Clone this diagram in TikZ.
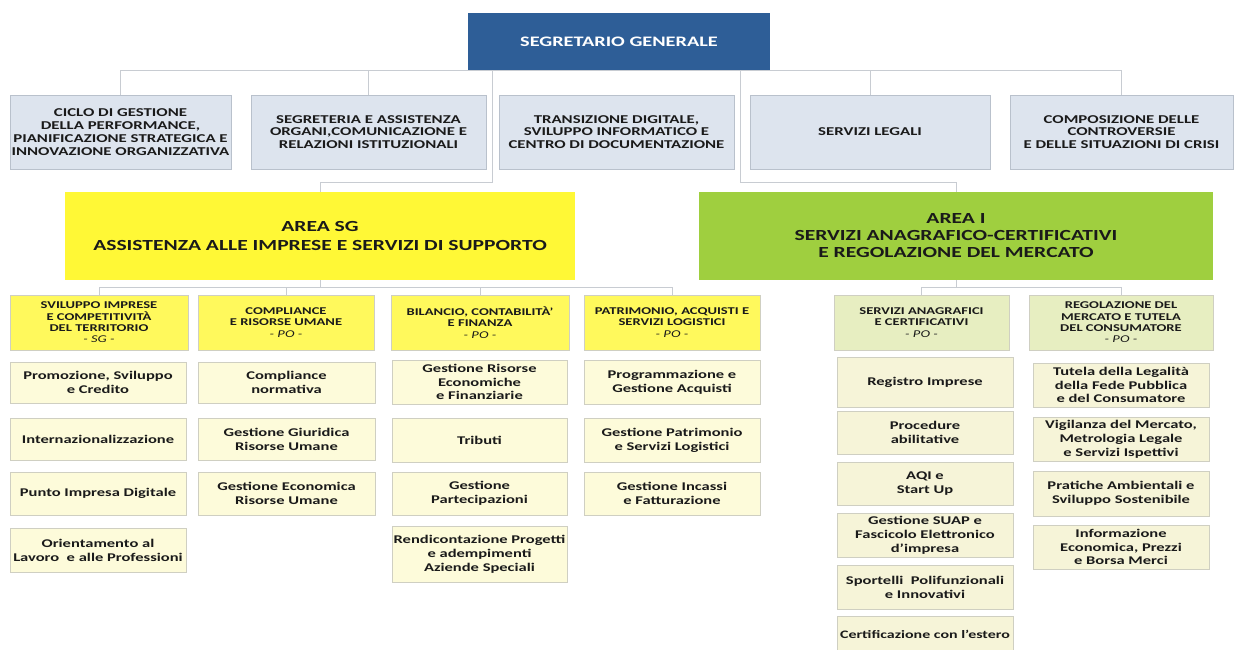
\documentclass[tikz,border=0pt]{standalone}
\usepackage{fontspec}
\setmainfont{Carlito}[FakeStretch=1.4]
\usetikzlibrary{shadows}
\definecolor{sgblue}{HTML}{2E5E97}
\definecolor{rowfill}{HTML}{DDE4EE}
\definecolor{rowline}{HTML}{B9C1CC}
\definecolor{yelA}{HTML}{FFF836}
\definecolor{yelB}{HTML}{FFF95C}
\definecolor{grnA}{HTML}{9FCF3F}
\definecolor{grnB}{HTML}{E7EEC1}
\definecolor{creamL}{HTML}{FDFBDA}
\definecolor{creamR}{HTML}{F6F4D8}
\definecolor{boxline}{HTML}{CFCFC2}
\definecolor{conn}{HTML}{C8CCD2}
\definecolor{txt}{HTML}{1A1A1A}
\newcommand\ob[7]{\node[#1, minimum width={(#5)-(#3)}, minimum height={(#6)-(#4)}] (#2) at ({((#3)+(#5))/2},{((#4)+(#6))/2}) {#7};}
\tikzset{
  box/.style={rectangle, inner sep=0pt, align=center, text=txt},
  shad/.style={drop shadow={shadow xshift=1pt, shadow yshift=-1.2pt, opacity=0.22, fill=black}},
  bluebox/.style={box, fill=sgblue, text=white, font=\bfseries\fontsize{14.5}{16}\selectfont},
  greybox/.style={box, shad, fill=rowfill, draw=rowline, line width=0.8pt, font=\bfseries\fontsize{12}{12.8}\selectfont},
  areaY/.style={box, fill=yelA, font=\bfseries\fontsize{15.4}{19.5}\selectfont},
  areaG/.style={box, fill=grnA, font=\bfseries\fontsize{15.4}{17}\selectfont},
  subY/.style={box, shad, fill=yelB, draw=boxline, line width=0.6pt, font=\bfseries\fontsize{10.4}{11.3}\selectfont},
  subG/.style={box, shad, fill=grnB, draw=boxline, line width=0.6pt, font=\bfseries\fontsize{10.4}{11.3}\selectfont},
  leafL/.style={box, shad, fill=creamL, draw=boxline, line width=0.6pt, font=\bfseries\fontsize{11.8}{13.8}\selectfont},
  leafR/.style={box, shad, fill=creamR, draw=boxline, line width=0.6pt, font=\bfseries\fontsize{11.8}{13.8}\selectfont},
  link/.style={draw=conn, line width=1pt}
}
\begin{document}
\begin{tikzpicture}[x=1pt, y=-1pt]
\useasboundingbox[fill=white] (0,0) rectangle (1237,650);
% top
\ob{bluebox}{sg}{468}{13}{770}{70}{SEGRETARIO GENERALE}
% row 2
\ob{greybox}{c1}{10}{95}{231}{169}{CICLO DI GESTIONE\\DELLA PERFORMANCE,\\PIANIFICAZIONE STRATEGICA E\\INNOVAZIONE ORGANIZZATIVA}
\ob{greybox}{c2}{251}{95}{486}{169}{SEGRETERIA E ASSISTENZA\\ORGANI,COMUNICAZIONE E\\RELAZIONI ISTITUZIONALI}
\ob{greybox}{c3}{499}{95}{734}{169}{TRANSIZIONE DIGITALE,\\SVILUPPO INFORMATICO E\\CENTRO DI DOCUMENTAZIONE}
\ob{greybox}{c4}{750}{95}{990}{169}{SERVIZI LEGALI}
\ob{greybox}{c5}{1010}{95}{1233}{169}{COMPOSIZIONE DELLE\\CONTROVERSIE\\E DELLE SITUAZIONI DI CRISI}
% areas
\ob{areaY}{asg}{65}{192}{575}{280}{AREA SG\\ASSISTENZA ALLE IMPRESE E SERVIZI DI SUPPORTO}
\ob{areaG}{ai}{699}{192}{1213}{280}{AREA I\\SERVIZI ANAGRAFICO-CERTIFICATIVI\\E REGOLAZIONE DEL MERCATO}
% sub units
\ob{subY}{s1}{10}{295}{188}{350}{SVILUPPO IMPRESE\\E COMPETITIVITÀ\\DEL TERRITORIO\\{\mdseries\itshape - SG -}}
\ob{subY}{s2}{198}{295}{374}{350}{COMPLIANCE\\E RISORSE UMANE\\{\mdseries\itshape - PO -}}
\ob{subY}{s3}{391}{295}{569}{350}{BILANCIO, CONTABILITÀ'\\E FINANZA\\{\mdseries\itshape - PO -}}
\ob{subY}{s4}{584}{295}{760}{350}{PATRIMONIO, ACQUISTI E\\SERVIZI LOGISTICI\\{\mdseries\itshape - PO -}}
\ob{subG}{a1}{834}{295}{1009}{350}{SERVIZI ANAGRAFICI\\E CERTIFICATIVI\\{\mdseries\itshape - PO -}}
\ob{subG}{a2}{1029}{295}{1213}{350}{REGOLAZIONE DEL\\MERCATO E TUTELA\\DEL CONSUMATORE\\{\mdseries\itshape - PO -}}
% leaves column 1
\ob{leafL}{l11}{10}{362}{186}{403}{Promozione, Sviluppo\\e Credito}
\ob{leafL}{l12}{10}{418}{186}{460}{Internazionalizzazione}
\ob{leafL}{l13}{10}{472}{186}{515}{Punto Impresa Digitale}
\ob{leafL}{l14}{10}{528}{186}{572}{Orientamento al\\Lavoro\ \ e alle Professioni}
% column 2
\ob{leafL}{l21}{198}{362}{375}{403}{Compliance\\normativa}
\ob{leafL}{l22}{198}{418}{375}{460}{Gestione Giuridica\\Risorse Umane}
\ob{leafL}{l23}{198}{472}{375}{515}{Gestione Economica\\Risorse Umane}
% column 3
\ob{leafL}{l31}{392}{360}{567}{404}{Gestione Risorse\\Economiche\\e Finanziarie}
\ob{leafL}{l32}{392}{418}{567}{462}{Tributi}
\ob{leafL}{l33}{392}{472}{567}{515}{Gestione\\Partecipazioni}
\ob{leafL}{l34}{392}{526}{567}{582}{Rendicontazione Progetti\\e adempimenti\\Aziende Speciali}
% column 4
\ob{leafL}{l41}{584}{360}{760}{404}{Programmazione e\\Gestione Acquisti}
\ob{leafL}{l42}{584}{418}{760}{462}{Gestione Patrimonio\\e Servizi Logistici}
\ob{leafL}{l43}{584}{472}{760}{515}{Gestione Incassi\\e Fatturazione}
% column 5
\ob{leafR}{l51}{837}{357}{1013}{407}{Registro Imprese}
\ob{leafR}{l52}{837}{411}{1013}{454}{Procedure\\abilitative}
\ob{leafR}{l53}{837}{462}{1013}{505}{AQI e\\Start Up}
\ob{leafR}{l54}{837}{513}{1013}{557}{Gestione SUAP e\\Fascicolo Elettronico\\d’impresa}
\ob{leafR}{l55}{837}{565}{1013}{609}{Sportelli\ \ Polifunzionali\\e Innovativi}
\ob{leafR}{l56}{837}{616}{1013}{660}{\raisebox{8pt}{\fontsize{11.4}{13}\selectfont Certificazione con l'estero}}
% column 6
\ob{leafR}{l61}{1033}{363}{1209}{407}{Tutela della Legalità\\della Fede Pubblica\\e del Consumatore}
\ob{leafR}{l62}{1033}{417}{1209}{461}{Vigilanza del Mercato,\\Metrologia Legale\\e Servizi Ispettivi}
\ob{leafR}{l63}{1033}{471}{1209}{516}{Pratiche Ambientali e\\Sviluppo Sostenibile}
\ob{leafR}{l64}{1033}{525}{1209}{569}{Informazione\\Economica, Prezzi\\e Borsa Merci}
% connectors top
\coordinate (jl) at (492,182);
\coordinate (jr) at (740,182);
\draw[link] (c1.north) |- (sg.south);
\draw[link] (c2.north) |- (sg.south);
\draw[link] (c4.north) |- (sg.south);
\draw[link] (c5.north) |- (sg.south);
\draw[link] (asg.north) |- (jl) -- (jl |- sg.south);
\draw[link] (ai.north) |- (jr) -- (jr |- sg.south);
% connectors areas
\coordinate (bl) at (320,287);
\coordinate (br) at (956,287);
\draw[link] (asg.south) -- (bl);
\draw[link] (s1.north) |- (bl);
\draw[link] (s2.north) |- (bl);
\draw[link] (s3.north) |- (bl);
\draw[link] (s4.north) |- (bl);
\draw[link] (ai.south) -- (br);
\draw[link] (a1.north) |- (br);
\draw[link] (a2.north) |- (br);
\end{tikzpicture}
\end{document}
